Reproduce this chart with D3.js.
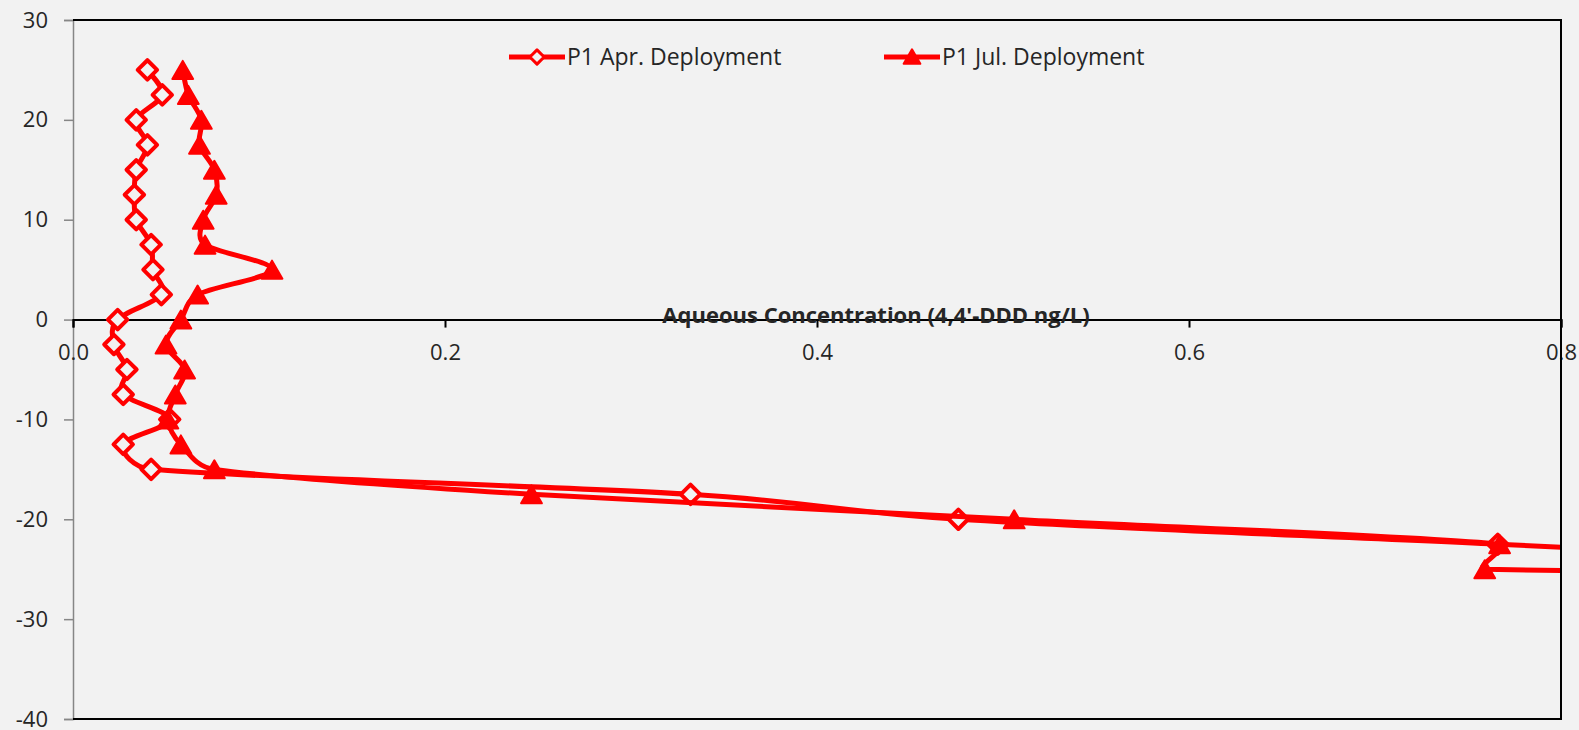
<!DOCTYPE html>
<html>
<head>
<meta charset="utf-8">
<script src="https://cdn.jsdelivr.net/npm/d3@7"></script>
<style>
  body { margin: 0; background: #f2f2f2; }
  text { font-family: "Open Sans", Lato, sans-serif; fill: #262626; }
</style>
</head>
<body>
<div id="chart"></div>
<script>
// page size
var svgWidth = 1579;
var svgHeight = 730;

// plot area edges
var margin = { top: 20, right: 18, bottom: 11, left: 73 };
var width = svgWidth - margin.left - margin.right;
var height = svgHeight - margin.top - margin.bottom;

// depths (cm) and concentrations
var aprDepth = [25, 22.5, 20, 17.5, 15, 12.5, 10, 7.5, 5, 2.5, 0, -2.5, -5, -7.5, -10, -12.5, -15, -17.5, -20, -22.5, -25];
var aprConc  = [0.040, 0.048, 0.034, 0.040, 0.034, 0.033, 0.034, 0.042, 0.043, 0.0475, 0.024, 0.022, 0.029, 0.027, 0.052, 0.027, 0.042, 0.332, 0.476, 0.766, 1.05];

var julDepth = [25, 22.5, 20, 17.5, 15, 12.5, 10, 7.5, 5, 2.5, 0, -2.5, -5, -7.5, -10, -12.5, -15, -17.5, -20, -22.5, -25, -27.5];
var julConc  = [0.059, 0.062, 0.069, 0.068, 0.076, 0.077, 0.070, 0.071, 0.107, 0.067, 0.058, 0.050, 0.060, 0.055, 0.051, 0.058, 0.076, 0.2465, 0.506, 0.767, 0.759, 1.6];

var xTicks = [0, 0.2, 0.4, 0.6, 0.8];
var yTicks = [30, 20, 10, 0, -10, -20, -30, -40];

var seriesNames = ["P1 Apr. Deployment", "P1 Jul. Deployment"];

var svg = d3.select("#chart")
    .append("svg")
    .attr("width", svgWidth)
    .attr("height", svgHeight);

var chartGroup = svg.append("g")
    .attr("transform", `translate(${margin.left}, ${margin.top})`);

var xScale = d3.scaleLinear().domain([0, 0.8]).range([0, width]);
var yScale = d3.scaleLinear().domain([-40, 30]).range([height, 0]);

// clip so points past 0.8 run off the edge
chartGroup.append("clipPath")
    .attr("id", "plotClip")
    .append("rect")
    .attr("width", width)
    .attr("height", height);

// left axis, grey
var leftAxis = d3.axisLeft(yScale).tickValues(yTicks).tickSize(9).tickPadding(16)
    .tickFormat(d => String(d));
var yAxis = chartGroup.append("g").call(leftAxis);
yAxis.select(".domain").attr("stroke", "#868686").attr("stroke-width", 1.5);
yAxis.selectAll(".tick line").attr("stroke", "#868686").attr("stroke-width", 1.5);
yAxis.selectAll("text").style("font-size", "22px").attr("fill", "#262626");

// bottom axis crossing at depth 0
var bottomAxis = d3.axisBottom(xScale).tickValues(xTicks).tickSize(8).tickPadding(17)
    .tickFormat(d3.format(".1f"));
var xAxis = chartGroup.append("g")
    .attr("transform", `translate(0, ${yScale(0)})`)
    .call(bottomAxis);
xAxis.select(".domain").attr("stroke", "#000").attr("stroke-width", 2);
xAxis.selectAll(".tick line").attr("stroke", "#000").attr("stroke-width", 2);
xAxis.selectAll("text").style("font-size", "22px").attr("fill", "#262626");

// smoothed line, roughly like a spreadsheet "smoothed line":
// bezier handles from neighbours, kept short on short segments
function smoothPath(data) {
    var pts = data.map(d => [xScale(d[0]), yScale(d[1])]);
    var n = pts.length;
    var tan = pts.map(function(p, i) {
        var a = pts[Math.max(i - 1, 0)], b = pts[Math.min(i + 1, n - 1)];
        return [(b[0] - a[0]) / 6, (b[1] - a[1]) / 6];
    });
    function clampHandle(t, len) {
        var l = Math.hypot(t[0], t[1]);
        var k = l > len * 0.45 ? len * 0.45 / l : 1;
        return [t[0] * k, t[1] * k];
    }
    var p = d3.path();
    p.moveTo(pts[0][0], pts[0][1]);
    for (var i = 0; i < n - 1; i++) {
        var a = pts[i], b = pts[i + 1];
        var len = Math.hypot(b[0] - a[0], b[1] - a[1]);
        var h1 = clampHandle(tan[i], len), h2 = clampHandle(tan[i + 1], len);
        p.bezierCurveTo(a[0] + h1[0], a[1] + h1[1], b[0] - h2[0], b[1] - h2[1], b[0], b[1]);
    }
    return p.toString();
}

var aprData = aprConc.map((c, i) => [c, aprDepth[i]]);
var julData = julConc.map((c, i) => [c, julDepth[i]]);

var plot = chartGroup.append("g").attr("clip-path", "url(#plotClip)");

var diamond = d3.symbol().type(d3.symbolDiamond2).size(240);
var triangle = d3.symbol().type(d3.symbolTriangle2).size(310);

plot.append("path")
    .attr("d", smoothPath(aprData))
    .attr("fill", "none")
    .attr("stroke", "red")
    .attr("stroke-width", 5)
    .attr("stroke-linejoin", "round");

plot.selectAll(".apr")
    .data(aprData)
    .enter()
    .append("path")
    .attr("class", "apr")
    .attr("transform", d => `translate(${xScale(d[0])}, ${yScale(d[1])})`)
    .attr("d", diamond)
    .attr("fill", "#f2f2f2")
    .attr("stroke", "red")
    .attr("stroke-width", 4)
    .attr("stroke-linejoin", "round");

plot.append("path")
    .attr("d", smoothPath(julData))
    .attr("fill", "none")
    .attr("stroke", "red")
    .attr("stroke-width", 5)
    .attr("stroke-linejoin", "round");

plot.selectAll(".jul")
    .data(julData)
    .enter()
    .append("path")
    .attr("class", "jul")
    .attr("transform", d => `translate(${xScale(d[0])}, ${yScale(d[1]) + 3})`)
    .attr("d", triangle)
    .attr("fill", "red")
    .attr("stroke", "red")
    .attr("stroke-width", 2)
    .attr("stroke-linejoin", "round");

// axis title sits on the zero line
chartGroup.append("text")
    .attr("x", 803)
    .attr("y", yScale(0) + 3)
    .attr("text-anchor", "middle")
    .style("font-size", "22px")
    .style("font-weight", "bold")
    .text("Aqueous Concentration (4,4'-DDD ng/L)");

// black frame on top, right and bottom
chartGroup.append("path")
    .attr("d", `M0,0H${width}V${height}H0`)
    .attr("fill", "none")
    .attr("stroke", "#000")
    .attr("stroke-width", 2);

// legend
var legend = svg.append("g").attr("transform", "translate(509, 57)");
var legendX = [0, 375];
seriesNames.forEach(function(name, i) {
    var g = legend.append("g").attr("transform", `translate(${legendX[i]}, 0)`);
    g.append("line")
        .attr("x1", 0).attr("x2", 56)
        .attr("stroke", "red").attr("stroke-width", 5);
    g.append("path")
        .attr("transform", i === 0 ? "translate(28, 0)" : "translate(28, 2)")
        .attr("d", i === 0 ? d3.symbol().type(d3.symbolDiamond2).size(130)
                           : d3.symbol().type(d3.symbolTriangle2).size(200))
        .attr("fill", i === 0 ? "#f2f2f2" : "red")
        .attr("stroke", "red")
        .attr("stroke-width", i === 0 ? 3 : 2)
        .attr("stroke-linejoin", "round");
    g.append("text")
        .attr("x", 58)
        .attr("y", 8)
        .style("font-size", "23px")
        .text(name);
});
</script>
</body>
</html>
